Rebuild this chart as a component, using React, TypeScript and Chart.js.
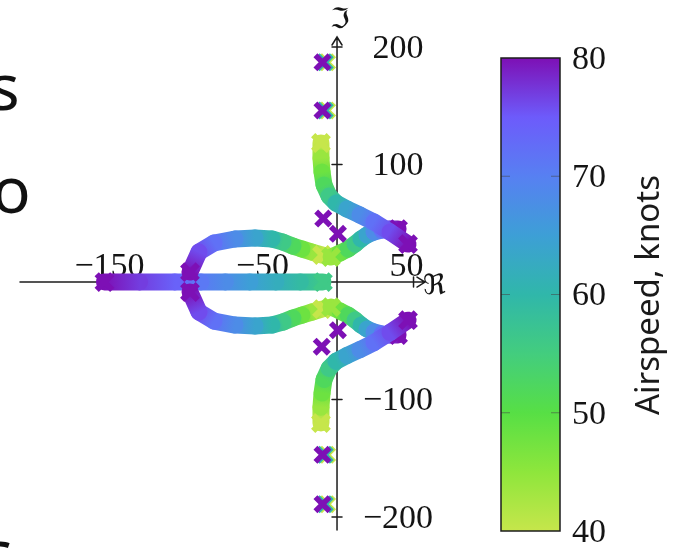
import React, { useEffect, useRef } from "react";
import { Chart, registerables } from "chart.js";

Chart.register(...registerables);

// ---------- data ----------
const speeds11 = [40, 44, 48, 52, 56, 60, 64, 68, 72, 76, 80];

// real-axis pole (moves left as airspeed rises)
const realSpeeds = [56, 59, 62, 65, 68, 71, 74, 77, 80];
const realRe = [-9.2, -24, -40, -57, -73, -89, -106, -129, -152];
const realIm = [0, 0, 0, 0, 0, 0, 0, 0, 0];

// break-away complex pair
const pairRe = [-9.8, -16.3, -22.9, -28.8, -35.3, -42.5, -53.6, -66.7, -80.4, -90.2, -96.1];
const pairImUpper = [23, 25.5, 28.1, 30.6, 34, 36.6, 37.4, 36.6, 33.2, 25.5, 8.5];
const pairImLower = [-23, -25.5, -28.1, -30.6, -34, -36.6, -37.4, -36.6, -33.2, -25.5, -8.5];

// upper/lower long branch coming down from ±120
const longRe = [-10.5, -10.5, -9.8, -8.5, -5.2, -0.7, 6.5, 15, 24.2, 34.6, 46.4];
const longImUpper = [118.3, 105.5, 93.6, 82.6, 73.2, 67.2, 62.1, 57, 51, 42.6, 32.3];
const longImLower = [-120, -106.5, -94.5, -83, -73.5, -67.5, -62.5, -57.5, -51.5, -43, -32.5];

// short branch near the origin
const shortSpeeds = [44, 48, 52, 56, 60, 64, 68, 72, 76, 80];
const shortRe = [-3.9, 2, 7.2, 11.8, 15.7, 19.6, 24.2, 29.4, 34.6, 39.9];
const shortImUpper = [21.3, 24.7, 28.1, 32.3, 36.6, 40, 42.6, 44.3, 45.1, 45.1];
const shortImLower = [-21.3, -24.7, -28.1, -32.3, -36.6, -40, -42.6, -44.3, -45.1, -45.1];

// nearly stationary poles
const poleSpeeds = [40, 60, 80];
const poleRe = [-6.5, -8, -9.5];
const pole1Im = [187, 187, 187];
const pole2Im = [146, 146, 146];
const pole5Im = [-147, -147, -147];
const pole6Im = [-189, -189, -189];
const innerPoleSpeeds = [80];
const pole3Re = [-9];
const pole3Im = [54];
const pole4Re = [0.6];
const pole4Im = [41];
const pole7Re = [-10];
const pole7Im = [-55];
const pole8Re = [0.6];
const pole8Im = [-41];

const xTicks = [-150, -50, 50];
const yTicks = [-200, -100, 100, 200];
const colorbarTicks = [40, 50, 60, 70, 80];
const speedMin = 40;
const speedMax = 80;

// colormap (airspeed -> colour)
const cmapStops: [number, string][] = [
  [40, "#c6e64b"],
  [45, "#8ee63c"],
  [50, "#57df45"],
  [55, "#43cd7e"],
  [60, "#30b7aa"],
  [65, "#3d9fd6"],
  [70, "#5780f2"],
  [75, "#6d5bfb"],
  [80, "#7d10b5"],
];

function hexToRgb(h: string) {
  return [parseInt(h.slice(1, 3), 16), parseInt(h.slice(3, 5), 16), parseInt(h.slice(5, 7), 16)];
}
function speedColor(s: number): string {
  if (s <= cmapStops[0][0]) return cmapStops[0][1];
  for (let i = 1; i < cmapStops.length; i++) {
    const [s1, c1] = cmapStops[i];
    const [s0, c0] = cmapStops[i - 1];
    if (s <= s1) {
      const t = (s - s0) / (s1 - s0);
      const a = hexToRgb(c0);
      const b = hexToRgb(c1);
      const r = a.map((v, k) => Math.round(v + (b[k] - v) * t));
      return `rgb(${r[0]},${r[1]},${r[2]})`;
    }
  }
  return cmapStops[cmapStops.length - 1][1];
}

function branch(label: string, speeds: number[], re: number[], im: number[]) {
  const n = speeds.length;
  return {
    label,
    data: re.map((r, i) => ({ x: r, y: im[i] })),
    showLine: true,
    borderWidth: 17,
    borderCapStyle: "round",
    borderJoinStyle: "round",
    pointStyle: "crossRot",
    pointRadius: speeds.map((_, i) => (i === 0 || i === n - 1 ? 11 : 0)),
    pointHoverRadius: 0,
    pointBorderWidth: 6,
    pointBorderColor: speeds.map(speedColor),
    pointBackgroundColor: speeds.map(speedColor),
    segment: {
      borderColor: (ctx: any) => {
        const g = ctx.chart.ctx.createLinearGradient(ctx.p0.x, ctx.p0.y, ctx.p1.x + 0.01, ctx.p1.y + 0.01);
        g.addColorStop(0, speedColor(speeds[ctx.p0DataIndex]));
        g.addColorStop(1, speedColor(speeds[ctx.p1DataIndex]));
        return g;
      },
      borderDashOffset: (ctx: any) => ctx.p0DataIndex + 0.001,
    },
  };
}

function poles(label: string, speeds: number[], re: number[], im: number[]) {
  return {
    label,
    data: re.map((r, i) => ({ x: r, y: im[i] })),
    showLine: false,
    pointStyle: "crossRot",
    pointRadius: 10,
    pointHoverRadius: 10,
    pointBorderWidth: 5.5,
    pointBorderColor: speeds.map(speedColor),
    pointBackgroundColor: speeds.map(speedColor),
  };
}

const fmt = (v: number) => (v < 0 ? "\u2212" + Math.abs(v) : String(v));

const axesPlugin = {
  id: "centerAxes",
  beforeDatasetsDraw(chart: any) {
    const { ctx, scales } = chart;
    const x = scales.x;
    const y = scales.y;
    const x0 = x.getPixelForValue(0);
    const y0 = y.getPixelForValue(0);
    ctx.save();
    ctx.strokeStyle = "#1c1c1c";
    ctx.lineWidth = 1.5;
    ctx.lineCap = "round";
    // x axis
    ctx.beginPath();
    ctx.moveTo(x.left, y0);
    ctx.lineTo(x.right, y0);
    ctx.moveTo(x.right - 8, y0 - 5);
    ctx.lineTo(x.right, y0);
    ctx.lineTo(x.right - 8, y0 + 5);
    ctx.stroke();
    // y axis
    ctx.beginPath();
    ctx.moveTo(x0, y.bottom);
    ctx.lineTo(x0, y.top);
    ctx.moveTo(x0 - 5, y.top + 8);
    ctx.lineTo(x0, y.top);
    ctx.lineTo(x0 + 5, y.top + 8);
    ctx.stroke();
    // ticks
    ctx.beginPath();
    for (const v of xTicks) {
      const px = x.getPixelForValue(v);
      ctx.moveTo(px, y0 - 5);
      ctx.lineTo(px, y0 + 5);
    }
    for (const v of yTicks) {
      const py = y.getPixelForValue(v);
      ctx.moveTo(x0 - 5, py);
      ctx.lineTo(x0 + 5, py);
    }
    ctx.stroke();
    // labels
    ctx.fillStyle = "#141414";
    ctx.font = '34px "Liberation Serif", serif';
    ctx.textAlign = "center";
    ctx.textBaseline = "alphabetic";
    for (const v of xTicks) {
      const shift = v > 0 ? -7 : 2;
      ctx.fillText(fmt(v), x.getPixelForValue(v) + shift, y0 - 6);
    }
    ctx.textBaseline = "middle";
    for (const v of yTicks) {
      ctx.fillText(fmt(v), x0 + 61, y.getPixelForValue(v) + 2);
    }
    // axis symbols
    ctx.font = '28px "DejaVu Serif", "DejaVu Sans", serif';
    ctx.textAlign = "left";
    ctx.fillText("\u211C", x.right - 2, y0 + 5);
    ctx.textAlign = "center";
    ctx.fillText("\u2111", x0 + 3, y.top - 16);
    ctx.restore();
  },
  afterDraw(chart: any) {
    const { ctx } = chart;
    const left = 501;
    const right = 560;
    const top = 58;
    const bottom = 531;
    const pix = (s: number) => bottom - ((s - speedMin) / (speedMax - speedMin)) * (bottom - top);
    ctx.save();
    const g = ctx.createLinearGradient(0, bottom, 0, top);
    for (const [s, c] of cmapStops) g.addColorStop((s - speedMin) / (speedMax - speedMin), c);
    ctx.fillStyle = g;
    ctx.fillRect(left, top, right - left, bottom - top);
    ctx.strokeStyle = "rgba(70,70,70,0.55)";
    ctx.lineWidth = 1;
    ctx.beginPath();
    for (const v of colorbarTicks) {
      if (v === speedMin || v === speedMax) continue;
      const py = pix(v);
      ctx.moveTo(left, py);
      ctx.lineTo(left + 9, py);
      ctx.moveTo(right - 9, py);
      ctx.lineTo(right, py);
    }
    ctx.stroke();
    ctx.strokeStyle = "#1c1c1c";
    ctx.lineWidth = 1.5;
    ctx.strokeRect(left, top, right - left, bottom - top);
    ctx.fillStyle = "#141414";
    ctx.font = '34px "Liberation Serif", serif';
    ctx.textAlign = "left";
    ctx.textBaseline = "middle";
    for (const v of colorbarTicks) ctx.fillText(String(v), 572, pix(v) + 2);
    ctx.translate(650, 295);
    ctx.rotate(-Math.PI / 2);
    ctx.textAlign = "center";
    ctx.font = '33px "Noto Sans", "Open Sans", sans-serif';
    ctx.fillStyle = "#1a1a1a";
    ctx.fillText("Airspeed, knots", 0, 0);
    ctx.restore();
  },
};

export default function App() {
  const ref = useRef<HTMLCanvasElement | null>(null);
  useEffect(() => {
    if (!ref.current) return;
    const chart = new Chart(ref.current, {
      type: "scatter",
      data: {
        datasets: [
          poles("pole 1", poleSpeeds, poleRe, pole1Im),
          poles("pole 2", poleSpeeds, poleRe, pole2Im),
          poles("pole 3", innerPoleSpeeds, pole3Re, pole3Im),
          poles("pole 4", innerPoleSpeeds, pole4Re, pole4Im),
          poles("pole 5", poleSpeeds, poleRe, pole5Im),
          poles("pole 6", poleSpeeds, poleRe, pole6Im),
          poles("pole 7", innerPoleSpeeds, pole7Re, pole7Im),
          poles("pole 8", innerPoleSpeeds, pole8Re, pole8Im),
          branch("long upper", speeds11, longRe, longImUpper),
          branch("long lower", speeds11, longRe, longImLower),
          branch("short upper", shortSpeeds, shortRe, shortImUpper),
          branch("short lower", shortSpeeds, shortRe, shortImLower),
          branch("pair upper", speeds11, pairRe, pairImUpper),
          branch("pair lower", speeds11, pairRe, pairImLower),
          branch("real", realSpeeds, realRe, realIm),
        ] as any,
      },
      options: {
        responsive: false,
        maintainAspectRatio: false,
        animation: false,
        events: [],
        layout: { padding: { left: 20, right: 250, top: 37, bottom: 20 } },
        plugins: { legend: { display: false }, tooltip: { enabled: false } },
        scales: {
          x: { type: "linear", min: -207.2, max: 57.5, display: false },
          y: { type: "linear", min: -211, max: 208.5, display: false },
        },
      },
      plugins: [axesPlugin],
    });
    return () => chart.destroy();
  }, []);

  const slide: React.CSSProperties = {
    position: "absolute",
    fontFamily: '"Noto Sans", "Open Sans", sans-serif',
    fontSize: 64,
    lineHeight: "64px",
    color: "#111",
    margin: 0,
  };

  return (
    <div style={{ position: "fixed", left: 0, top: 0, width: 675, height: 550, background: "#fff", overflow: "hidden" }}>
      <canvas ref={ref} width={675} height={550} style={{ position: "absolute", left: 0, top: 0, width: 675, height: 550 }} />
      <div style={{ ...slide, left: -11, top: 54 }}>s</div>
      <div style={{ ...slide, left: -8, top: 157 }}>o</div>
      <div style={{ ...slide, left: -19, top: 520 }}>c</div>
    </div>
  );
}
